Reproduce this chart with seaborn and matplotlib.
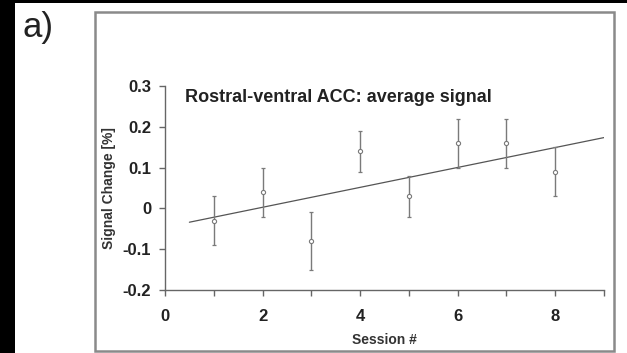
import numpy as np
import pandas as pd
import matplotlib
matplotlib.use("Agg")
import matplotlib.pyplot as plt
from matplotlib.patches import Rectangle
from matplotlib.ticker import MultipleLocator
import seaborn as sns

# ---- data ----
sessions = [1, 2, 3, 4, 5, 6, 7, 8]
signal = [-0.03, 0.04, -0.08, 0.14, 0.03, 0.16, 0.16, 0.09]
err_low = [0.06, 0.06, 0.07, 0.05, 0.05, 0.06, 0.06, 0.06]
err_high = [0.06, 0.06, 0.07, 0.05, 0.05, 0.06, 0.06, 0.06]
yticks = [-0.2, -0.1, 0, 0.1, 0.2, 0.3]
ytick_labels = ["-0.2", "-0.1", "0", "0.1", "0.2", "0.3"]
xticks = [0, 2, 4, 6, 8]
title = "Rostral-ventral ACC: average signal"
panel = "a)"

df = pd.DataFrame({"session": sessions, "signal": signal})

sns.set_style("ticks")
plt.rcParams["font.family"] = ["Liberation Sans", "DejaVu Sans"]

W, H = 627, 353
fig = plt.figure(figsize=(W / 100, H / 100), dpi=100)
fig.patch.set_facecolor("white")

def fx(px):
    return px / W

def fy(py):
    return 1 - py / H

# black strips of the scanned figure
fig.patches.append(Rectangle((0, 0), fx(15), 1, transform=fig.transFigure,
                             facecolor="black", edgecolor="none", zorder=0))
fig.patches.append(Rectangle((0, fy(3)), 1, 3 / H, transform=fig.transFigure,
                             facecolor="black", edgecolor="none", zorder=0))
# grey frame
fig.patches.append(Rectangle((fx(95), fy(351)), fx(614 - 95), (351 - 12) / H,
                             transform=fig.transFigure, facecolor="none",
                             edgecolor="#8a8a8a", linewidth=1.8, zorder=1))

ax = fig.add_axes([fx(165), fy(290), fx(604 - 165), (290 - 86) / H])
ax.set_facecolor("none")

grey = "#7a7a7a"
# regression line spanning 0.5..9
ax.set_xlim(0.5, 9)
sns.regplot(data=df, x="session", y="signal", ax=ax, scatter=False, ci=None,
            truncate=False, line_kws=dict(color="#555555", linewidth=0.9))

ax.errorbar(sessions, signal, yerr=[err_low, err_high], fmt="none",
            ecolor=grey, elinewidth=1.0, capsize=1.5, capthick=0.9, zorder=3)
sns.scatterplot(data=df, x="session", y="signal", ax=ax, marker="o", s=9,
                facecolor="white", edgecolor=grey, linewidth=0.8, zorder=4)

ax.set_xlim(0, 9)
ax.set_ylim(-0.2, 0.3)
ax.set_xticks(xticks)
ax.xaxis.set_minor_locator(MultipleLocator(1))
ax.set_yticks(yticks)
ax.set_yticklabels(ytick_labels)

sns.despine(ax=ax)
for s in ("left", "bottom"):
    ax.spines[s].set_color("#666666")
    ax.spines[s].set_linewidth(1.0)
ax.tick_params(axis="both", which="both", direction="out", color="#666666",
               width=1.0)
ax.tick_params(axis="both", which="major", length=4, labelsize=12,
               labelcolor="#222222")
ax.tick_params(axis="x", which="major", pad=10)
ax.tick_params(axis="y", which="major", pad=6)
ax.tick_params(axis="x", which="minor", length=4)
for lab in ax.get_xticklabels() + ax.get_yticklabels():
    lab.set_fontweight("bold")

ax.set_xlabel("Session #", fontsize=10, fontweight="bold", color="#333333",
              labelpad=6)
ax.set_ylabel("Signal Change [%]", fontsize=10, fontweight="bold",
              color="#333333", labelpad=5)

ax.text(0.41, 0.273, title, fontsize=13, fontweight="bold", color="#222222",
        ha="left", va="center")

fig.text(fx(22), fy(28), panel, fontsize=25, color="#222222", ha="left",
         va="center")

fig.savefig("out.png", dpi=100)
